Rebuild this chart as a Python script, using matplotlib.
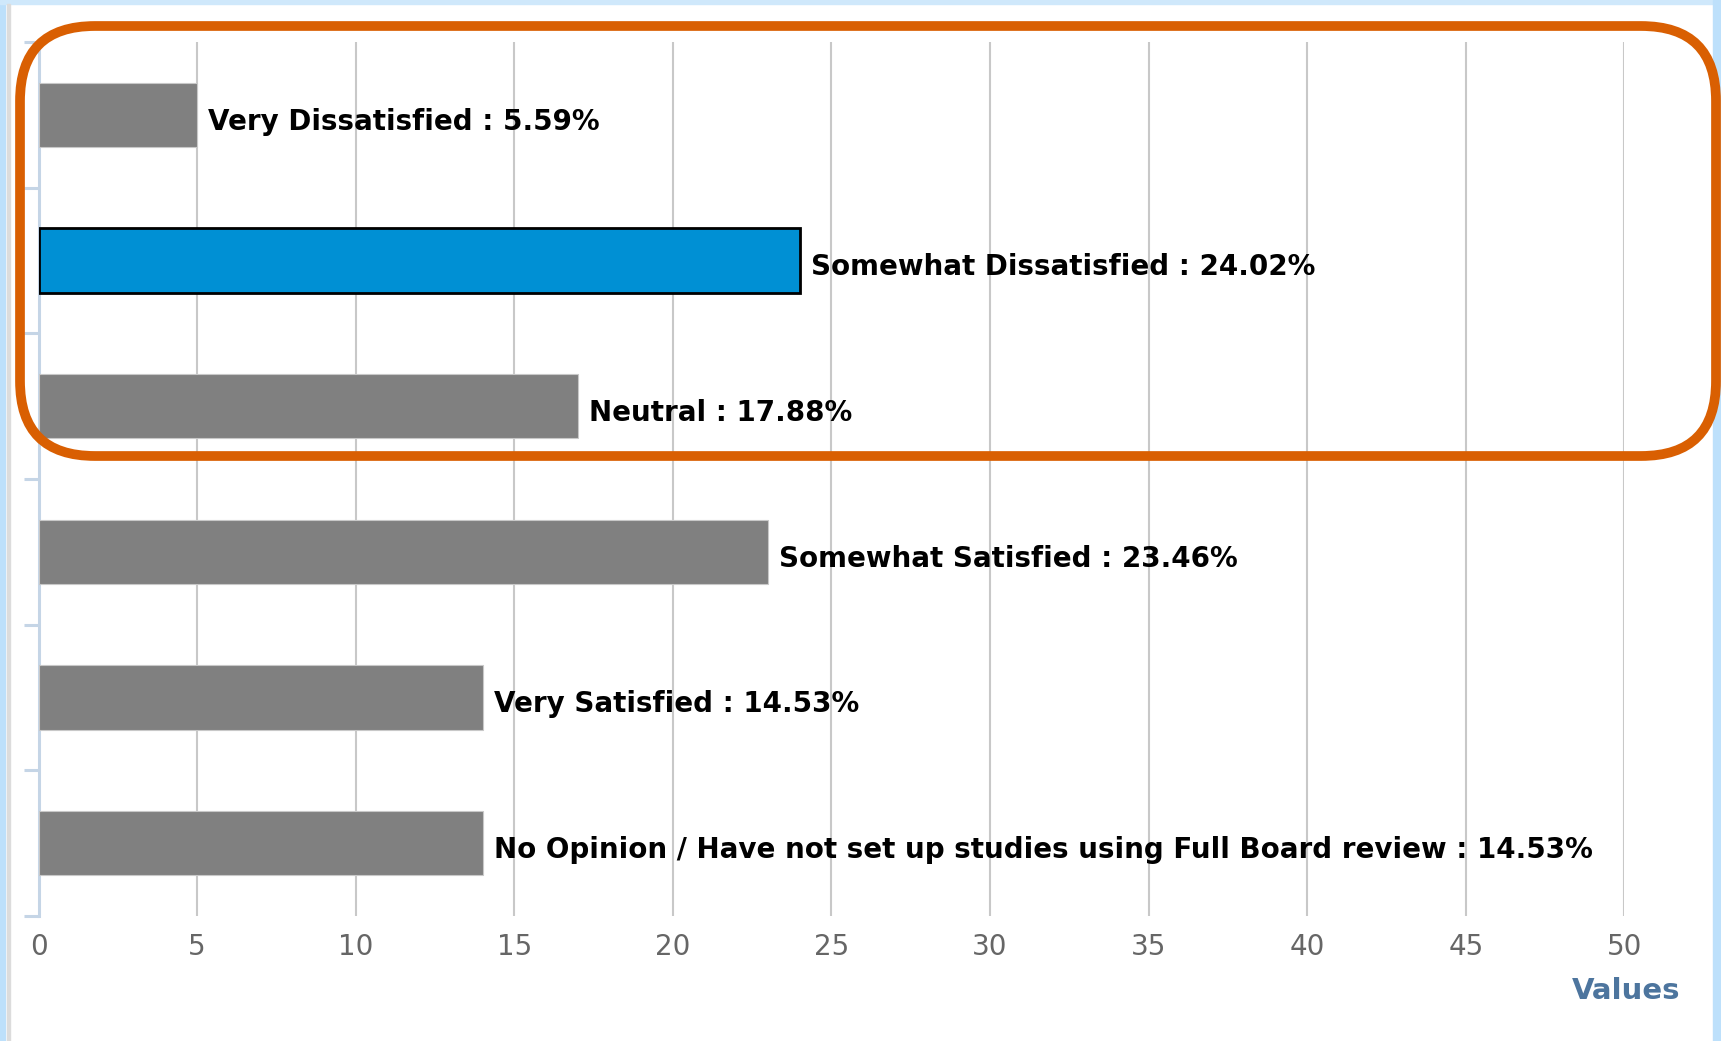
import matplotlib
matplotlib.use('Agg')
import matplotlib.pyplot as plt
from matplotlib.patches import FancyBboxPatch, Rectangle
import numpy as np

# Dados do gráfico
categorias = ['Very Dissatisfied', 'Somewhat Dissatisfied', 'Neutral',
              'Somewhat Satisfied', 'Very Satisfied',
              'No Opinion / Have not set up studies using Full Board review']
valores = [5, 24, 17, 23, 14, 14]
percentuais = ['5.59%', '24.02%', '17.88%', '23.46%', '14.53%', '14.53%']
destaque = 1  # barra em azul
ticks_x = list(range(0, 55, 5))

W, H = 1721, 1041
fig = plt.figure(figsize=(W / 100, H / 100), dpi=100)
fig.patch.set_facecolor('white')

# posição do eixo em pixels
x0, x50 = 38.5, 1624.5
y_top, y_bot = 42, 916
ax = fig.add_axes([x0 / W, 1 - y_bot / H, (x50 - x0) / W, (y_bot - y_top) / H])
ax.set_facecolor('none')

y = np.arange(len(categorias))
cores = ['#0090d4' if i == destaque else '#808080' for i in y]
bordas = ['#000000' if i == destaque else '#c8c8c8' for i in y]
larg_borda = [2.0 if i == destaque else 0.8 for i in y]
ax.barh(y, valores, height=0.44, color=cores, edgecolor=bordas,
        linewidth=larg_borda, zorder=3)

for i, (cat, v, p) in enumerate(zip(categorias, valores, percentuais)):
    ax.annotate(f'{cat} : {p}', xy=(v, i), xytext=(8, -5),
                textcoords='offset points', ha='left', va='center',
                fontsize=20, fontweight='bold', color='#000000',
                family='DejaVu Sans', zorder=4)

ax.set_xlim(0, 50)
ax.set_ylim(len(categorias) - 0.5, -0.5)
ax.set_xticks(ticks_x)
ax.set_xticklabels([str(t) for t in ticks_x], fontsize=20, color='#666666')
ax.tick_params(axis='x', length=0, pad=12)
ax.set_yticks([])
ax.set_yticks(np.arange(-0.5, len(categorias)), minor=True)
ax.tick_params(axis='y', which='minor', length=11, width=2.2, color='#c5d5e6',
               direction='out')
ax.grid(axis='x', color='#c8c8c8', linewidth=1.5, zorder=0)
for t in ax.get_xgridlines()[:1]:
    t.set_visible(False)
for lado in ['top', 'right', 'bottom']:
    ax.spines[lado].set_visible(False)
ax.spines['left'].set_color('#c5d5e6')
ax.spines['left'].set_linewidth(2.2)

fig.text(1680 / W, 1 - 991 / H, 'Values', ha='right', va='center',
         fontsize=21, fontweight='bold', color='#4d759e')

# moldura da página
tr = fig.dpi_scale_trans
fig.patches.append(Rectangle((0, 0), 4.5 / 100, H / 100, transform=tr,
                             color='#bde0fb', zorder=0))
fig.patches.append(Rectangle((0, (H - 4) / 100), W / 100, 4 / 100, transform=tr,
                             color='#cfe8fb', zorder=0))
fig.patches.append(Rectangle(((W - 8) / 100, 0), 8 / 100, H / 100, transform=tr,
                             color='#bde0fb', zorder=0))
fig.patches.append(Rectangle((6.5 / 100, 0), 3 / 100, (H - 4) / 100, transform=tr,
                             color='#dcdcdc', zorder=0))

# destaque laranja arredondado
bx0, bx1, by0, by1 = 20, 1716, 26, 456
fig.patches.append(FancyBboxPatch((bx0 / 100, (H - by1) / 100),
                                  (bx1 - bx0) / 100, (by1 - by0) / 100,
                                  boxstyle='round,pad=0,rounding_size=0.75',
                                  transform=tr, facecolor='none',
                                  edgecolor='#d95f02', linewidth=7, zorder=10))

fig.savefig('out.png', dpi=100)
